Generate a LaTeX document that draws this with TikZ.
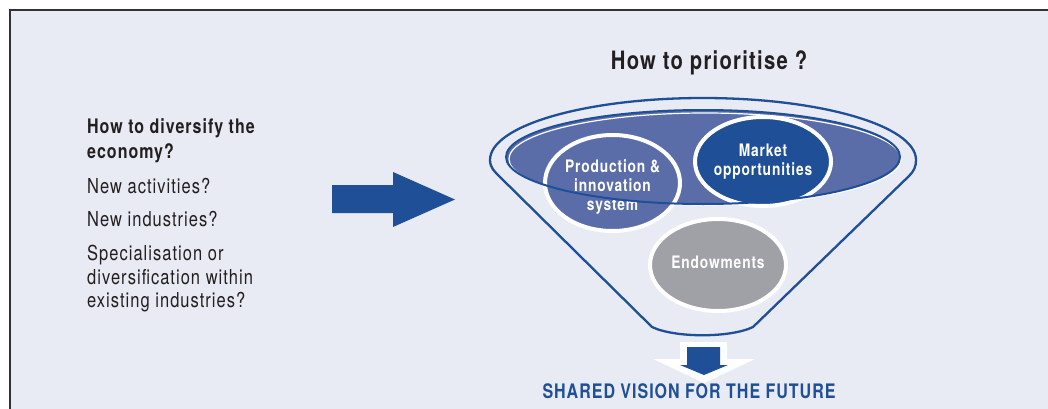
\documentclass[tikz,border=0pt]{standalone}
\usepackage{fontspec}
\setmainfont{TeX Gyre Heros}[FakeStretch=0.8,LetterSpace=5]
\usetikzlibrary{shapes.geometric}

\definecolor{bgblue}{RGB}{232,235,244}
\definecolor{darkblue}{RGB}{31,79,150}
\definecolor{midblue}{RGB}{90,109,168}
\definecolor{stonegray}{RGB}{160,161,166}
\definecolor{framegray}{RGB}{50,50,50}
\definecolor{inkgray}{RGB}{35,31,32}

\tikzset{
	disc/.style={ellipse, draw=white, line width=4pt, inner sep=0pt},
	disclabel/.style={text=white, align=center, font=\fontsize{17.2}{19}\selectfont\bfseries},
	sidetext/.style={anchor=base west, inner sep=0pt, text=inkgray, font=\fontsize{20.6}{24}\selectfont},
	sidehead/.style={sidetext, font=\fontsize{20}{24}\selectfont\bfseries},
}

\begin{document}
\begin{tikzpicture}[x=1pt,y=1pt]
	\useasboundingbox (0,0) rectangle (1048,408);
	\fill[white] (0,0) rectangle (1048,408);
	\draw[framegray, line width=1.5pt, fill=bgblue] (10,-20) rectangle (1070,398);

	% left column
	\node[sidehead] (ask1) at (87,274.3) {How to diversify the};
	\node[sidehead] (ask2) at (87,249.3) {economy?};
	\node[sidetext] (opt1) at (87,215) {New activities?};
	\node[sidetext] (opt2) at (87,182) {New industries?};
	\node[sidetext] (opt3a) at (87,147.3) {Specialisation or};
	\node[sidetext] (opt3b) at (87,124) {diversification within};
	\node[sidetext] (opt3c) at (87,100.7) {existing industries?};

	% big arrow
	\fill[darkblue] (332,195) -- (393,195) -- (393,181) -- (455,208.5) -- (393,236) -- (393,223) -- (332,223) -- cycle;

	\node[anchor=base, inner sep=0pt, text=inkgray, font=\fontsize{25.3}{28}\selectfont\bfseries] (title) at (709,339) {How to prioritise ?};

	% funnel
	\draw[darkblue, line width=2.3pt, line join=round] (490,248) arc[start angle=180, end angle=0, x radius=213, y radius=62]
		to[out=-90,in=45] (909,232) -- (753,81) .. controls (730,70) and (675,70) .. (652,81) -- (500,231) to[out=135,in=-90] (490,248) -- cycle;

	\coordinate (rim) at (703,251);
	\fill[midblue] (rim) ellipse [x radius=197, y radius=47];
	\draw[white, line width=1.2pt] ([xshift=2pt,yshift=-2pt]rim) ellipse [x radius=196, y radius=46];

	% the three fields
	\node[disc, fill=midblue, minimum width=135pt, minimum height=96pt] (prod) at (612.5,225) {};
	\node[disclabel] (prodtext) at ([yshift=-3.5pt]prod.center) {Production \&\\innovation\\system};
	\node[disc, fill=darkblue, minimum width=136pt, minimum height=89pt] (market) at (763,246.5) {};
	\node[disclabel] (markettext) at (market.center) {Market\\opportunities};
	\node[disc, fill=stonegray, minimum width=136pt, minimum height=92pt] (endow) at (718,143) {};
	\node[disclabel] (endowtext) at ([yshift=3pt]endow.center) {Endowments};

	\draw[darkblue, line width=2pt] (rim) ellipse [x radius=197, y radius=47];

	% down arrow
	\fill[white] (680,66) -- (727,66) -- (727,49) -- (755,49) -- (704,25) -- (653,49) -- (680,49) -- cycle;
	\fill[darkblue] (687,61) -- (720,61) -- (720,43) -- (728,43) -- (704,33) -- (680,43) -- (687,43) -- cycle;

	\node[anchor=base, inner sep=0pt, text=darkblue, font=\fontsize{20}{22}\selectfont\bfseries] (vision) at (689,9.5) {SHARED VISION FOR THE FUTURE};
\end{tikzpicture}
\end{document}
